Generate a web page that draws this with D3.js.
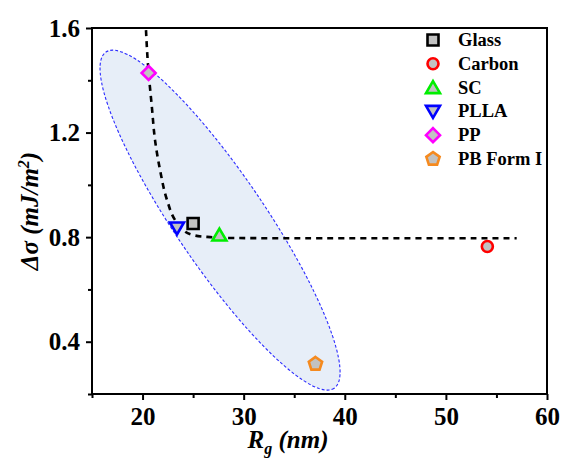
<!DOCTYPE html>
<html>
<head>
<meta charset="utf-8">
<script src="https://cdn.jsdelivr.net/npm/d3@7"></script>
<style>
  html, body { margin: 0; padding: 0; background: #fff; }
  svg { display: block; }
  text { font-family: "Liberation Serif", "Times New Roman", serif; font-weight: bold; }
</style>
</head>
<body>
<svg id="chart" width="561" height="458"></svg>
<script>
// Substrates and their measured values
const substrates = ["Glass", "Carbon", "SC", "PLLA", "PP", "PB Form I"];
const roughness  = [25.0, 54.1, 27.6, 23.4, 20.6, 37.1];   // R_g (nm)
const deltaSigma = [0.852, 0.764, 0.808, 0.835, 1.428, 0.315]; // Δσ (mJ/m²)

// Guide-to-the-eye curve
const fitX = [20.34, 20.54, 20.93, 21.23, 21.73, 22.42, 23.21, 24.0, 24.99, 26.37, 28.35, 32.0, 57.0];
const fitY = [1.592, 1.458, 1.294, 1.172, 1.057, 0.942, 0.866, 0.827, 0.808, 0.801, 0.797, 0.796, 0.796];

// Highlighted group: major-axis end points (data units)
const groupAxisX = [16.38, 38.95];
const groupAxisY = [1.508, 0.222];

const xTicks = [20, 30, 40, 50, 60];
const xMinor = [15, 25, 35, 45, 55];
const yTicks = [0.4, 0.8, 1.2, 1.6];
const yMinor = [0.2, 0.6, 1.0, 1.4];

const svg = d3.select("#chart");
const m = { left: 92, right: 14, top: 28, bottom: 64 };
const W = 561, H = 458;

const x = d3.scaleLinear().domain([15, 60]).range([m.left, W - m.right]);
const y = d3.scaleLinear().domain([0.2, 1.6]).range([H - m.bottom, m.top]);

// Shaded group ellipse
const ax = x(groupAxisX[0]), ay = y(groupAxisY[0]);
const bx = x(groupAxisX[1]), by = y(groupAxisY[1]);
const cx = (ax + bx) / 2, cy = (ay + by) / 2;
const semiMajor = Math.hypot(bx - ax, by - ay) / 2;
const semiMinor = 45;
const angle = Math.atan2(by - ay, bx - ax) * 180 / Math.PI;
svg.append("ellipse")
  .attr("cx", cx).attr("cy", cy)
  .attr("rx", semiMajor).attr("ry", semiMinor)
  .attr("transform", `rotate(${angle},${cx},${cy})`)
  .attr("fill", "#e7eef8")
  .attr("stroke", "#2a2aff")
  .attr("stroke-width", 1.1)
  .attr("stroke-dasharray", "3,2");

// Dashed trend curve
const fitPts = fitX.map((v, i) => [v, fitY[i]]);
svg.append("path")
  .datum(fitPts)
  .attr("fill", "none")
  .attr("stroke", "#000")
  .attr("stroke-width", 2.6)
  .attr("stroke-dasharray", "6,5")
  .attr("d", d3.line().x(d => x(d[0])).y(d => y(d[1])).curve(d3.curveMonotoneY));

// Axes
const xAxis = svg.append("g").attr("transform", `translate(0,${y(0.2)})`)
  .call(d3.axisBottom(x).tickValues(xTicks).tickSize(6).tickPadding(7).tickFormat(d3.format("d")));
const xAxisMinor = svg.append("g").attr("transform", `translate(0,${y(0.2)})`)
  .call(d3.axisBottom(x).tickValues(xMinor).tickSize(4).tickFormat(""));
const yAxis = svg.append("g").attr("transform", `translate(${x(15)},0)`)
  .call(d3.axisLeft(y).tickValues(yTicks).tickSize(6).tickPadding(6).tickFormat(d3.format(".1f")));
const yAxisMinor = svg.append("g").attr("transform", `translate(${x(15)},0)`)
  .call(d3.axisLeft(y).tickValues(yMinor).tickSize(4).tickFormat(""));

[xAxis, xAxisMinor, yAxis, yAxisMinor].forEach(g => {
  g.select(".domain").remove();
  g.selectAll(".tick line").attr("stroke", "#000").attr("stroke-width", 2);
  g.selectAll(".tick text").attr("fill", "#000").style("font-size", "25px")
    .style("font-family", "'Liberation Serif', serif").style("font-weight", "bold");
});

// Plot frame
svg.append("rect")
  .attr("x", x(15)).attr("y", y(1.6))
  .attr("width", x(60) - x(15)).attr("height", y(0.2) - y(1.6))
  .attr("fill", "none").attr("stroke", "#000").attr("stroke-width", 2);

// Marker shapes
const colors = ["#000000", "#ff0000", "#00ee00", "#0000ff", "#ff00ff", "#f58a1f"];
function pentagon(r) {
  const pts = d3.range(5).map(i => {
    const a = -Math.PI / 2 + i * 2 * Math.PI / 5;
    return [r * Math.cos(a), r * Math.sin(a)];
  });
  return "M" + pts.map(p => p.join(",")).join("L") + "Z";
}
const shapes = [
  () => "M-5.5,-5.5H5.5V5.5H-5.5Z",
  () => d3.symbol(d3.symbolCircle, 95)(),
  () => "M0,-6.5L7,5.5H-7Z",
  () => "M0,6.5L7,-5.5H-7Z",
  () => "M0,-7L7,0L0,7L-7,0Z",
  () => pentagon(7)
];

substrates.forEach((name, i) => {
  svg.append("path")
    .attr("d", shapes[i]())
    .attr("transform", `translate(${x(roughness[i])},${y(deltaSigma[i])})`)
    .attr("fill", "#c2c2c2")
    .attr("stroke", colors[i])
    .attr("stroke-width", 2.6)
    .attr("stroke-linejoin", "miter");
});

// Legend
const legend = svg.append("g").attr("transform", "translate(433,40)");
substrates.forEach((name, i) => {
  const row = legend.append("g").attr("transform", `translate(0,${i * 23.8})`);
  row.append("path")
    .attr("d", shapes[i]())
    .attr("fill", "#c2c2c2")
    .attr("stroke", colors[i])
    .attr("stroke-width", 2.6);
  row.append("text")
    .attr("x", 25).attr("y", 6)
    .style("font-size", "18.5px")
    .text(name);
});

// Axis titles
const yTitle = svg.append("text")
  .attr("transform", `translate(38,${(y(0.2) + y(1.6)) / 2}) rotate(-90)`)
  .attr("text-anchor", "middle")
  .style("font-size", "25px")
  .style("font-style", "italic");
yTitle.append("tspan").text("Δσ (mJ/m");
yTitle.append("tspan").attr("dy", -9).style("font-size", "16px").text("2");
yTitle.append("tspan").attr("dy", 9).text(")");

const xTitle = svg.append("text")
  .attr("x", 288).attr("y", 448)
  .attr("text-anchor", "middle")
  .style("font-size", "25px")
  .style("font-style", "italic");
xTitle.append("tspan").text("R");
xTitle.append("tspan").attr("dy", 6).style("font-size", "16px").text("g");
xTitle.append("tspan").attr("dy", -6).text(" (nm)");
</script>
</body>
</html>
